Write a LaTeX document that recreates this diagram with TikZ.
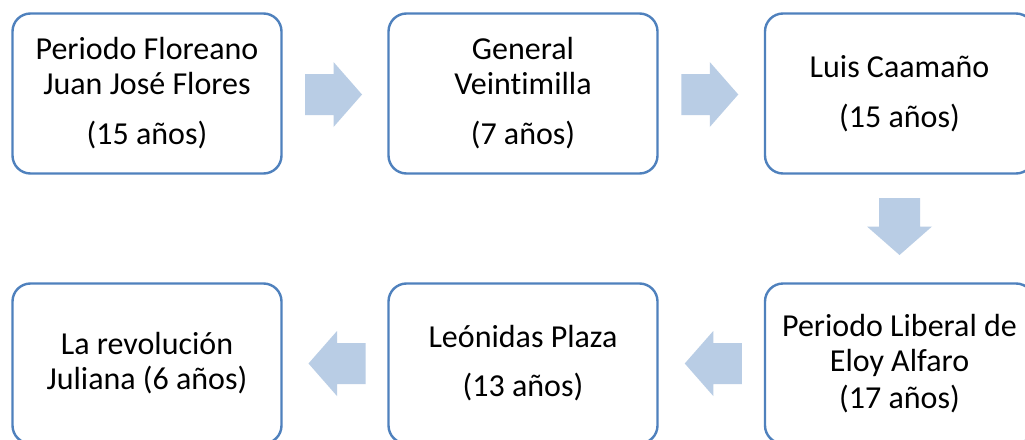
\documentclass[tikz,border=0pt]{standalone}
\usepackage{fontspec}
\setmainfont{Carlito}[Ligatures=NoCommon]
\usetikzlibrary{calc}
\definecolor{boxline}{HTML}{4F81BD}
\definecolor{arrowfill}{HTML}{B9CDE5}
\tikzset{
  stagebox/.style={draw=boxline, line width=2.4pt, rounded corners=18pt,
    fill=white, minimum width=269pt, minimum height=160pt, inner sep=0pt,
    outer sep=0pt, align=center, font=\fontsize{32}{35}\selectfont},
  blockarrow/.pic={\fill[arrowfill] (-28.5,-20.5) -- (0,-20.5) -- (0,-32.5)
    -- (28.5,0) -- (0,32.5) -- (0,20.5) -- (-28.5,20.5) -- cycle;}
}
\begin{document}
\begin{tikzpicture}[x=1pt,y=-1pt]
\useasboundingbox (0,0) rectangle (1025,439);
\clip (0,0) rectangle (1025,439);
\fill[white] (0,0) rectangle (1025,439);
\node[stagebox] (b1) at (147,93.5) {Periodo Floreano\\Juan José Flores\\[15pt](15 años)};
\node[stagebox] (b2) at (523,93.5) {General\\Veintimilla\\[15pt](7 años)};
\node[stagebox] (b3) at (899.5,93.5) {Luis Caamaño\\[15pt](15 años)};
\node[stagebox] (b4) at (899.5,363.5) {Periodo Liberal de\\Eloy Alfaro\\[2pt](17 años)};
\node[stagebox] (b5) at (523,363.5) {Leónidas Plaza\\[14pt](13 años)};
\node[stagebox] (b6) at (147,363.5) {La revolución\\Juliana (6 años)};
\pic at ($(b1.east)!0.5!(b2.west)+(-1.5,1)$) {blockarrow};
\pic at ($(b2.east)!0.5!(b3.west)+(-1.5,1)$) {blockarrow};
\pic[rotate=-90] at ($(b3.south)!0.5!(b4.north)+(0,-2)$) {blockarrow};
\pic[rotate=180] at ($(b4.west)!0.5!(b5.west -| b5.east)+(2,0)$) {blockarrow};
\pic[rotate=180] at ($(b5.west)!0.5!(b6.east)+(2,0)$) {blockarrow};
\end{tikzpicture}
\end{document}
